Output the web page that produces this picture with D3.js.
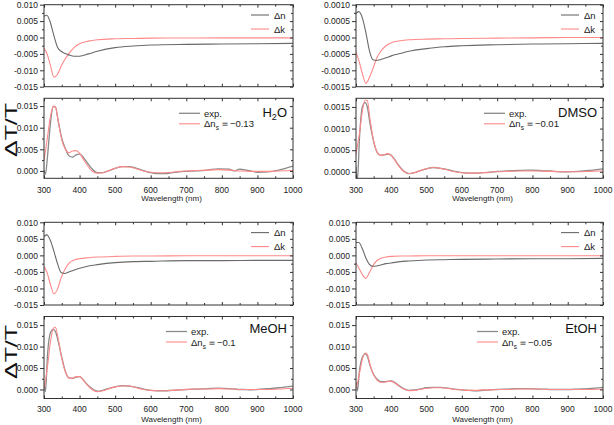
<!DOCTYPE html>
<html><head><meta charset="utf-8">
<script src="https://cdn.jsdelivr.net/npm/d3@7"></script>
<style>
body{margin:0;background:#fff;}
svg{font-family:"Liberation Sans",Arial,sans-serif;}
.axis path{stroke:#333;}
.axis line{stroke:#333;}
.axis text{fill:#222;font-size:8.5px;font-family:"Liberation Sans",Arial,sans-serif;}
</style></head><body>
<svg id="c" width="614" height="425"></svg>
<script>
// ---------- DATA ----------
const solvents = ["H2O", "DMSO", "MeOH", "EtOH"];
const fitLabels = ["-0.13", "-0.01", "-0.1", "-0.05"];
const xTicks = [300, 400, 500, 600, 700, 800, 900, 1000];
const xMinor = [350, 450, 550, 650, 750, 850, 950];

// wavelength grid for Δn / Δk
const wlTop = [300, 308, 318, 328, 338, 348, 358, 370, 385, 400, 425, 450, 500, 550, 600, 700, 800, 900, 1000];
const dnH2O  = [0.0065, 0.0068, 0.0045, 0.0005, -0.0030, -0.0042, -0.0048, -0.0053, -0.0057, -0.0057, -0.0050, -0.0042, -0.0031, -0.0026, -0.0023, -0.0021, -0.0020, -0.0019, -0.0018];
const dkH2O  = [-0.0033, -0.0048, -0.0085, -0.0121, -0.0112, -0.0088, -0.0068, -0.0049, -0.0030, -0.0019, -0.0011, -0.0007, -0.0004, -0.0003, -0.0002, -0.00015, -0.0001, -0.0001, -0.0001];
const dnDMSO = [0.00074, 0.00079, 0.0006, 0.00015, -0.0004, -0.00068, -0.0007, -0.00067, -0.00062, -0.00056, -0.00049, -0.00042, -0.00034, -0.00028, -0.00025, -0.00022, -0.0002, -0.00019, -0.00018];
const dkDMSO = [-0.00045, -0.0007, -0.0011, -0.0014, -0.00122, -0.00095, -0.00065, -0.00042, -0.00025, -0.00016, -0.0001, -0.00007, -0.00005, -0.00004, -0.00003, -0.00002, -0.00001, 0, 0];
const dnMeOH = [0.0057, 0.0062, 0.0045, 0.0012, -0.0025, -0.0052, -0.0055, -0.0050, -0.0044, -0.0039, -0.0032, -0.0028, -0.0022, -0.0019, -0.0018, -0.0016, -0.0016, -0.0015, -0.0015];
const dkMeOH = [-0.0034, -0.0050, -0.0088, -0.0116, -0.0102, -0.0068, -0.0044, -0.0024, -0.0014, -0.0010, -0.0007, -0.0005, -0.0003, -0.0002, -0.0002, -0.0001, -0.0001, -0.0001, -0.0001];
const dnEtOH = [0.0039, 0.0039, 0.0020, -0.0008, -0.0027, -0.0033, -0.0032, -0.0029, -0.0025, -0.0023, -0.0019, -0.0017, -0.0014, -0.0013, -0.0012, -0.0011, -0.0010, -0.0010, -0.0009];
const dkEtOH = [-0.0023, -0.0038, -0.0058, -0.0069, -0.0052, -0.0031, -0.0017, -0.0009, -0.0005, -0.0003, -0.0002, -0.0002, -0.0001, -0.0001, -0.0001, -0.0001, -0.0001, -0.0001, -0.0001];

// wavelength grid for ΔT/T
const wlBot = [300, 304, 310, 318, 326, 332, 340, 350, 360, 370, 380, 390, 400, 410, 420, 435, 450, 465, 480, 500, 520, 540, 560, 580, 600, 620, 640, 660, 680, 700, 730, 760, 790, 820, 835, 850, 860, 880, 900, 930, 960, 1000];
const expH2O  = [0.0002, -0.0008, 0.0035, 0.0110, 0.0148, 0.0148, 0.0115, 0.0075, 0.0052, 0.0035, 0.0032, 0.0037, 0.0039, 0.0032, 0.0021, 0.0005, -0.0004, -0.0004, 0.0000, 0.0006, 0.0010, 0.0010, 0.0006, 0.0001, -0.0004, -0.0006, -0.0006, -0.0004, -0.0002, -0.0001, 0.0000, 0.0002, 0.0005, 0.0004, 0.0000, 0.0004, 0.0003, 0.0000, -0.0003, -0.0002, 0.0002, 0.0011];
const fitH2O  = [0.0025, 0.0045, 0.0080, 0.0125, 0.0150, 0.0148, 0.0115, 0.0072, 0.0050, 0.0042, 0.0046, 0.0047, 0.0041, 0.0028, 0.0015, 0.0000, -0.0005, -0.0004, 0.0000, 0.0006, 0.0010, 0.0009, 0.0005, 0.0000, -0.0003, -0.0004, -0.0004, -0.0003, -0.0001, 0.0000, 0.0001, 0.0002, 0.0003, 0.0002, 0.0001, 0.0000, 0.0000, -0.0001, -0.0001, -0.0001, 0.0000, 0.0001];
const expDMSO = [0.00012, -0.0002, 0.0008, 0.0015, 0.0016, 0.0015, 0.0011, 0.0007, 0.00045, 0.00038, 0.00039, 0.00041, 0.00038, 0.00028, 0.00016, 0.00002, -0.00004, -0.00002, 0.00002, 0.00007, 0.0001, 0.00008, 0.00005, 0.00001, -0.00002, -0.00003, -0.00003, -0.00002, -0.00001, 0.00001, 0.00002, 0.00003, 0.00004, 0.00003, 0.00002, 0.00002, 0.00001, 0.0, 0.0, 0.00001, 0.00003, 0.00007];
const fitDMSO = [0.0004, 0.0006, 0.0009, 0.0014, 0.00166, 0.00165, 0.0012, 0.00072, 0.00045, 0.00038, 0.0004, 0.00042, 0.00038, 0.00027, 0.00015, 0.00001, -0.00004, -0.00002, 0.00002, 0.00007, 0.0001, 0.00008, 0.00004, 0.0, -0.00002, -0.00003, -0.00003, -0.00002, -0.00001, 0.0, 0.00001, 0.00002, 0.00002, 0.00002, 0.00001, 0.00001, 0.00001, 0.0, 0.0, 0.0, 0.00001, 0.00002];
const expMeOH = [0.0018, -0.0005, 0.0082, 0.0132, 0.0140, 0.0135, 0.0112, 0.0075, 0.0042, 0.0027, 0.0026, 0.0029, 0.0030, 0.0023, 0.0013, 0.0002, -0.0004, -0.0002, 0.0002, 0.0006, 0.0009, 0.0008, 0.0005, 0.0001, -0.0002, -0.0003, -0.0003, -0.0002, -0.0001, 0.0000, 0.0001, 0.0002, 0.0003, 0.0002, 0.0001, 0.0000, 0.0000, -0.0001, 0.0000, 0.0002, 0.0004, 0.0008];
const fitMeOH = [0.0002, 0.0020, 0.0055, 0.0110, 0.0142, 0.0145, 0.0118, 0.0072, 0.0042, 0.0027, 0.0026, 0.0030, 0.0030, 0.0022, 0.0012, 0.0000, -0.0005, -0.0003, 0.0001, 0.0006, 0.0008, 0.0008, 0.0004, 0.0000, -0.0002, -0.0003, -0.0003, -0.0002, -0.0001, 0.0000, 0.0001, 0.0001, 0.0002, 0.0001, 0.0001, 0.0000, 0.0000, 0.0000, 0.0000, 0.0000, 0.0001, 0.0003];
const expEtOH = [0.0017, -0.0003, 0.0045, 0.0075, 0.0083, 0.0078, 0.0055, 0.0035, 0.0024, 0.0018, 0.0018, 0.0019, 0.0020, 0.0016, 0.0010, 0.0002, -0.0002, -0.0001, 0.0001, 0.0004, 0.0005, 0.0005, 0.0003, 0.0001, -0.0001, -0.0002, -0.0003, -0.0002, -0.0001, 0.0000, 0.0001, 0.0002, 0.0002, 0.0001, 0.0001, 0.0000, 0.0000, 0.0000, 0.0000, 0.0001, 0.0002, 0.0005];
const fitEtOH = [0.0002, 0.0015, 0.0038, 0.0070, 0.0085, 0.0082, 0.0057, 0.0034, 0.0022, 0.0017, 0.0017, 0.0019, 0.0019, 0.0015, 0.0009, 0.0001, -0.0003, -0.0002, 0.0000, 0.0003, 0.0004, 0.0004, 0.0003, 0.0000, -0.0001, -0.0002, -0.0002, -0.0001, -0.0001, 0.0000, 0.0000, 0.0001, 0.0001, 0.0001, 0.0000, 0.0000, 0.0000, 0.0000, 0.0000, 0.0000, 0.0000, 0.0001];

const yTicksNK  = [0.010, 0.005, 0.000, -0.005, -0.010, -0.015];
const yTicksNKs = [0.0010, 0.0005, 0.0000, -0.0005, -0.0010, -0.0015];
const yTicksT   = [0.015, 0.010, 0.005, 0.000];
const yTicksTs  = [0.0015, 0.0010, 0.0005, 0.0000];

// ---------- LAYOUT ----------
const panels = [
  {name: solvents[0], fit: fitLabels[0], dn: dnH2O, dk: dkH2O, ex: expH2O, ft: fitH2O,
   x0: 44, x1: 293, a: [4.7, 86.7], b: [98.3, 178.3], aDom: [-0.015, 0.010], bDom: [-0.0017, 0.0168],
   aT: yTicksNK, bT: yTicksT, dig: 3, legB: 179, tickY: 192.5, wlY: 201, labY: 116.5},
  {name: solvents[1], fit: fitLabels[1], dn: dnDMSO, dk: dkDMSO, ex: expDMSO, ft: fitDMSO,
   x0: 356, x1: 603, a: [4.7, 86.7], b: [98.3, 178.3], aDom: [-0.0015, 0.0010], bDom: [-0.00015, 0.0017],
   aT: yTicksNKs, bT: yTicksTs, dig: 4, legB: 484, tickY: 192.5, wlY: 201, labY: 117},
  {name: solvents[2], fit: fitLabels[2], dn: dnMeOH, dk: dkMeOH, ex: expMeOH, ft: fitMeOH,
   x0: 44, x1: 293, a: [222.3, 305], b: [316.5, 398.5], aDom: [-0.015, 0.010], bDom: [-0.0021, 0.017],
   aT: yTicksNK, bT: yTicksT, dig: 3, legB: 166, tickY: 411.5, wlY: 421.5, labY: 333},
  {name: solvents[3], fit: fitLabels[3], dn: dnEtOH, dk: dkEtOH, ex: expEtOH, ft: fitEtOH,
   x0: 356, x1: 603, a: [222.3, 305], b: [316.5, 398.5], aDom: [-0.015, 0.010], bDom: [-0.0021, 0.017],
   aT: yTicksNK, bT: yTicksT, dig: 3, legB: 477, tickY: 411.5, wlY: 421.5, labY: 333}
];

const svg = d3.select("#c");
const GRAY = "#6a6a6a", GRAY2 = "#8a8a8a", RED = "#ff8a8a";
let clipId = 0;

function fmt(d, dig) {
  return d3.format("." + dig + "f")(d).replace("\u2212", "-");
}

function frame(x, y, top, bot, ticks, dig, showXLabels, p) {
  const g = svg.append("g");
  // minor ticks for y
  const step = ticks[0] - ticks[1];
  const minor = ticks.slice(0, -1).map(t => t - step / 2).filter(v => v > y.domain()[0] && v < y.domain()[1]);
  g.append("g").attr("class", "axis").attr("transform", `translate(${p.x0},0)`)
    .call(d3.axisLeft(y).tickValues(ticks).tickSize(4).tickPadding(2).tickFormat(d => fmt(d, dig)))
    .call(s => s.select(".domain").remove());
  g.append("g").attr("class", "axis").attr("transform", `translate(${p.x0},0)`)
    .call(d3.axisLeft(y).tickValues(minor).tickSize(2).tickFormat(""))
    .call(s => s.select(".domain").remove());
  g.append("g").attr("class", "axis").attr("transform", `translate(${p.x1},0)`)
    .call(d3.axisRight(y).tickValues(ticks).tickSize(-3).tickFormat(""))
    .call(s => s.select(".domain").remove());
  g.append("g").attr("class", "axis").attr("transform", `translate(${p.x1},0)`)
    .call(d3.axisRight(y).tickValues(minor).tickSize(-2).tickFormat(""))
    .call(s => s.select(".domain").remove());
  // x ticks, inward
  g.append("g").attr("class", "axis").attr("transform", `translate(0,${top})`)
    .call(d3.axisTop(x).tickValues(xTicks).tickSize(-3).tickFormat(""))
    .call(s => s.select(".domain").remove());
  g.append("g").attr("class", "axis").attr("transform", `translate(0,${top})`)
    .call(d3.axisTop(x).tickValues(xMinor).tickSize(-2).tickFormat(""))
    .call(s => s.select(".domain").remove());
  g.append("g").attr("class", "axis").attr("transform", `translate(0,${bot})`)
    .call(d3.axisBottom(x).tickValues(xTicks).tickSize(-3).tickFormat(""))
    .call(s => s.select(".domain").remove());
  g.append("g").attr("class", "axis").attr("transform", `translate(0,${bot})`)
    .call(d3.axisBottom(x).tickValues(xMinor).tickSize(-2).tickFormat(""))
    .call(s => s.select(".domain").remove());
  g.append("rect").attr("x", p.x0).attr("y", top).attr("width", p.x1 - p.x0).attr("height", bot - top)
    .attr("fill", "none").attr("stroke", "#333").attr("stroke-width", 1);
  if (showXLabels) {
    g.selectAll("text.xl").data(xTicks).join("text").attr("class", "xl")
      .attr("x", d => x(d)).attr("y", p.tickY).attr("text-anchor", "middle")
      .attr("font-size", "8.5px").attr("fill", "#222").text(d => d);
    g.append("text").attr("x", (p.x0 + p.x1) / 2 + 3).attr("y", p.wlY).attr("text-anchor", "middle")
      .attr("font-size", "8px").attr("fill", "#222").text("Wavelength (nm)");
  }
}

function clip(p, top, bot) {
  const id = "clip" + (clipId++);
  svg.append("clipPath").attr("id", id).append("rect")
    .attr("x", p.x0).attr("y", top).attr("width", p.x1 - p.x0).attr("height", bot - top);
  return "url(#" + id + ")";
}

panels.forEach(p => {
  const x = d3.scaleLinear().domain([300, 1000]).range([p.x0, p.x1]);
  // --- upper subplot: Δn, Δk
  const ya = d3.scaleLinear().domain(p.aDom).range([p.a[1], p.a[0]]);
  const la = d3.line().x((d, i) => x(wlTop[i])).y(d => ya(d)).curve(d3.curveMonotoneX);
  const ca = clip(p, p.a[0], p.a[1]);
  svg.append("path").attr("clip-path", ca).attr("d", la(p.dk)).attr("fill", "none").attr("stroke", RED).attr("stroke-width", 1.1);
  svg.append("path").attr("clip-path", ca).attr("d", la(p.dn)).attr("fill", "none").attr("stroke", GRAY).attr("stroke-width", 1.1);
  frame(x, ya, p.a[0], p.a[1], p.aT, p.dig + (p.dig === 4 ? 0 : 0), false, p);
  // legend
  const lg = svg.append("g");
  [["\u0394n", GRAY, 15 - 4.7], ["\u0394k", RED, 29 - 4.7]].forEach(([t, c, dy]) => {
    const yy = p.a[0] + dy;
    lg.append("line").attr("x1", p.x1 - 42).attr("x2", p.x1 - 24).attr("y1", yy).attr("y2", yy)
      .attr("stroke", c).attr("stroke-width", 1.1);
    lg.append("text").attr("x", p.x1 - 19).attr("y", yy + 3.5).attr("font-size", "9.5px").attr("fill", "#222").text(t);
  });

  // --- lower subplot: ΔT/T
  const yb = d3.scaleLinear().domain(p.bDom).range([p.b[1], p.b[0]]);
  const lb = d3.line().x((d, i) => x(wlBot[i])).y(d => yb(d)).curve(d3.curveMonotoneX);
  const cb = clip(p, p.b[0], p.b[1]);
  svg.append("path").attr("clip-path", cb).attr("d", lb(p.ex)).attr("fill", "none").attr("stroke", GRAY2).attr("stroke-width", 1.3);
  svg.append("path").attr("clip-path", cb).attr("d", lb(p.ft)).attr("fill", "none").attr("stroke", RED).attr("stroke-width", 1.1);
  frame(x, yb, p.b[0], p.b[1], p.bT, p.dig, true, p);

  const y1 = p.b[0] + 15, y2 = p.b[0] + 25.5;
  svg.append("line").attr("x1", p.legB).attr("x2", p.legB + 21).attr("y1", y1).attr("y2", y1).attr("stroke", GRAY2).attr("stroke-width", 1.3);
  svg.append("text").attr("x", p.legB + 25).attr("y", y1 + 3.5).attr("font-size", "9.5px").attr("fill", "#222").text("exp.");
  svg.append("line").attr("x1", p.legB).attr("x2", p.legB + 21).attr("y1", y2).attr("y2", y2).attr("stroke", RED).attr("stroke-width", 1.1);
  const tf = svg.append("text").attr("x", p.legB + 25).attr("y", y2 + 3.5).attr("font-size", "9.5px").attr("fill", "#222");
  tf.append("tspan").text("\u0394n");
  tf.append("tspan").attr("dy", 3).attr("font-size", "6.5px").text("s");
  tf.append("tspan").attr("dy", -3).attr("dx", 1).text("\uFF1D" + p.fit.replace("-", "\u2212"));

  // solvent label
  const sl = svg.append("text").attr("x", p.x1 - 6).attr("y", p.labY).attr("text-anchor", "end")
    .attr("font-size", "13px").attr("fill", "#111");
  if (p.name === "H2O") {
    sl.append("tspan").text("H");
    sl.append("tspan").attr("dy", 3.5).attr("font-size", "9px").text("2");
    sl.append("tspan").attr("dy", -3.5).text("O");
  } else {
    sl.text(p.name);
  }
});

// ΔT/T axis titles
[[10.5, 130], [10.5, 352]].forEach(([cx, cy]) => {
  svg.append("text").attr("transform", `translate(${cx + 6},${cy}) rotate(-90)`)
    .attr("text-anchor", "middle").attr("font-size", "16px").attr("fill", "#111")
    .attr("textLength", 54).attr("lengthAdjust", "spacingAndGlyphs").text("\u0394T/T");
});
</script>
</body></html>
